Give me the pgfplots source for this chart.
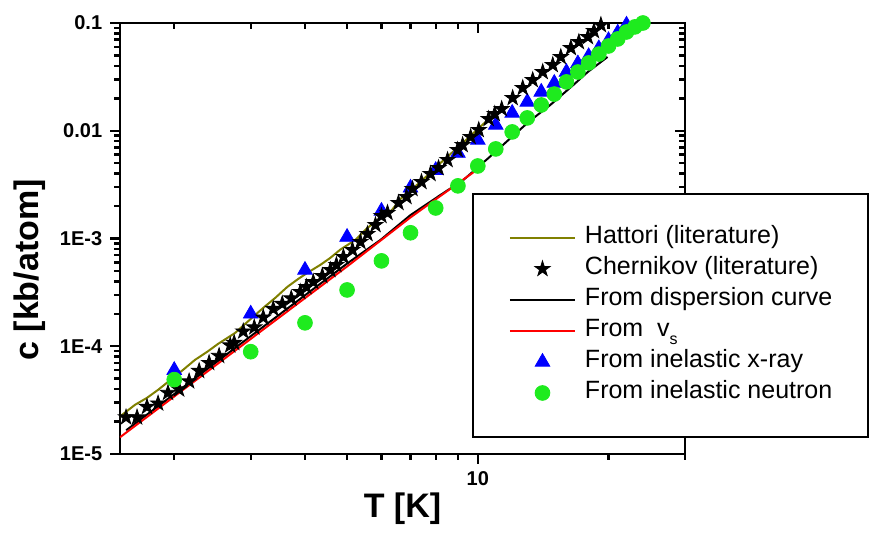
\documentclass[border=0pt]{standalone}
\usepackage{pgfplots}
\pgfplotsset{compat=1.18}
\usepackage{fontspec}
\setmainfont{Liberation Sans}

\definecolor{hattori}{RGB}{128,128,0}
\definecolor{xray}{RGB}{0,0,255}
\definecolor{neutron}{RGB}{30,235,30}

% filled five-pointed star
\pgfdeclareplotmark{fstar}{%
  \pgfpathmoveto{\pgfpointpolar{90}{\pgfplotmarksize}}%
  \pgfpathlineto{\pgfpointpolar{126}{0.382\pgfplotmarksize}}%
  \pgfpathlineto{\pgfpointpolar{162}{\pgfplotmarksize}}%
  \pgfpathlineto{\pgfpointpolar{198}{0.382\pgfplotmarksize}}%
  \pgfpathlineto{\pgfpointpolar{234}{\pgfplotmarksize}}%
  \pgfpathlineto{\pgfpointpolar{270}{0.382\pgfplotmarksize}}%
  \pgfpathlineto{\pgfpointpolar{306}{\pgfplotmarksize}}%
  \pgfpathlineto{\pgfpointpolar{342}{0.382\pgfplotmarksize}}%
  \pgfpathlineto{\pgfpointpolar{18}{\pgfplotmarksize}}%
  \pgfpathlineto{\pgfpointpolar{54}{0.382\pgfplotmarksize}}%
  \pgfpathclose
  \pgfusepathqfillstroke}

\pgfplotsset{
  cleg/.style={legend image code/.code={\draw[mark repeat=2,mark phase=2,##1] plot coordinates {(0pt,0pt) (16.25pt,0pt) (32.5pt,0pt)};}},
  frameaxis/.style={
    width=282.5pt, height=215.5pt, scale only axis,
    xmin=1.5, xmax=30, ymin=1e-5, ymax=0.1,
    xtick={10}, minor xtick={2,3,4,5,6,7,8,9,20,30},
    ytick={1e-5,1e-4,1e-3,1e-2,1e-1},
    minor ytick={2e-5,3e-5,4e-5,5e-5,6e-5,7e-5,8e-5,9e-5,
                 2e-4,3e-4,4e-4,5e-4,6e-4,7e-4,8e-4,9e-4,
                 2e-3,3e-3,4e-3,5e-3,6e-3,7e-3,8e-3,9e-3,
                 2e-2,3e-2,4e-2,5e-2,6e-2,7e-2,8e-2,9e-2},
    every axis/.append style={line width=1.2pt},
    every tick/.append style={black, line width=1.2pt},
    major tick length=5pt, minor tick length=3pt,
  }
}

\begin{document}
\begin{tikzpicture}
\useasboundingbox (-60pt,-45pt) rectangle (374.5pt,227pt);

% frame ticks on top and right, pointing inward
\begin{loglogaxis}[frameaxis,
    xtick pos=right, ytick pos=right, tick align=inside,
    xticklabels={}, yticklabels={}]
\end{loglogaxis}

\begin{loglogaxis}[frameaxis,
    xtick pos=left, ytick pos=left, tick align=outside,
    xticklabels={10},
    yticklabels={1E-5,1E-4,1E-3,0.01,0.1},
    /pgf/number format/assume math mode=true,
    tick label style={font=\bfseries\fontsize{10}{12}\selectfont},
    label style={font=\bfseries\fontsize{17}{20}\selectfont},
    xlabel={T [K]}, ylabel={c [kb/atom]},
    xlabel shift=-4pt,
    ylabel style={at={(ticklabel cs:0.427)}},
    legend cell align=left,
    legend style={at={(0.623,0.6056)}, anchor=north west,
      draw=black, line width=1pt,
      font=\fontsize{12.5}{15}\selectfont,
      inner xsep=18pt, inner ysep=16pt, row sep=3.5pt,
      nodes={inner sep=0pt, text height=9pt, text depth=3pt},
      /tikz/every odd column/.style={column sep=4.5pt}},
]

\addlegendimage{cleg, hattori, line width=1pt}
\addlegendentry{Hattori (literature)}
\addlegendimage{cleg, only marks, mark=fstar, mark size=4pt, black, line width=0.4pt}
\addlegendentry{Chernikov (literature)}
\addlegendimage{cleg, black, line width=1pt}
\addlegendentry{From dispersion curve}
\addlegendimage{cleg, red, line width=1pt}
\addlegendentry{From \ v\raisebox{-4pt}{\fontsize{8}{9}\selectfont s}}
\addlegendimage{cleg, only marks, mark=triangle*, mark size=4.2pt, xray, line width=0.4pt}
\addlegendentry{From inelastic x-ray}
\addlegendimage{cleg, only marks, mark=*, mark size=3.7pt, neutron, line width=0.4pt}
\addlegendentry{From inelastic neutron}

% Hattori (literature)
\addplot[forget plot, hattori, line width=1pt] coordinates {
(1.5,2.23e-5) (1.624,2.86e-5) (1.731,3.32e-5) (1.836,3.94e-5) (1.988,5.09e-5)
(2.096,6.04e-5) (2.233,7.48e-5) (2.381,8.87e-5) (2.524,1.053e-4) (2.763,1.331e-4)
(2.913,1.613e-4) (3.206,2.271e-4) (3.417,2.812e-4) (3.643,3.556e-4) (3.861,4.22e-4)
(4.050,4.80e-4) (4.339,5.69e-4) (4.576,6.61e-4) (4.826,7.9e-4) (5.226,9.70e-4)
(5.571,1.253e-3) (5.873,1.488e-3) (6.294,1.766e-3) (6.638,2.33e-3) (7.38,3.35e-3)
(8.21,5.03e-3) (9.13,7.39e-3) (10.42,0.01206)
};

% From dispersion curve
\addplot[forget plot, black, line width=1pt] coordinates {
(1.55,1.66e-5) (2,3.6e-5) (3,1.24e-4) (4,2.97e-4) (5,5.85e-4) (5.97,9.7e-4)
(7.0,1.65e-3) (8.21,2.54e-3) (9.27,3.5e-3) (10.15,4.82e-3) (11.11,6.64e-3)
(11.6,7.8e-3) (13.1,0.0121) (14.7,0.0174) (16.6,0.0266) (17.9,0.035) (19.9,0.0484)
};

% From v_s
\addplot[forget plot, red, line width=1pt] coordinates {
(1.5,1.43e-5) (3,1.17e-4) (5,5.5e-4) (7,1.57e-3) (10,4.4e-3)
};

% From inelastic x-ray
\addplot[forget plot, only marks, mark=triangle*, mark size=4.2pt, xray, line width=0.4pt] coordinates {
(2,6.0e-5) (3,2.0e-4) (4,5.1e-4) (5,1.03e-3) (6,1.8e-3) (7,2.95e-3) (8,4.3e-3)
(9,6.2e-3) (10,8.2e-3) (11,1.13e-2) (12,1.46e-2) (13,1.85e-2) (14,2.29e-2)
(15,2.77e-2) (16,3.5e-2) (17,4.2e-2) (18,4.9e-2) (19,5.8e-2) (20,6.9e-2)
(21,8.1e-2) (22,9.6e-2)
};

% Chernikov (literature)
\addplot[forget plot, only marks, mark=fstar, mark size=4pt, black, line width=0.4pt] coordinates {
(1.549,2.19e-5) (1.642,2.19e-5) (1.731,2.74e-5) (1.836,2.95e-5) (1.935,3.70e-5)
(2.052,3.98e-5) (2.164,4.73e-5) (2.282,5.91e-5) (2.406,7.01e-5) (2.537,8.15e-5)
(2.691,1.019e-4) (2.748,1.075e-4) (2.883,1.374e-4) (3.057,1.497e-4) (3.206,1.853e-4)
(3.381,2.223e-4) (3.546,2.474e-4) (3.720,2.782e-4) (3.902,3.196e-4) (4.029,3.556e-4)
(4.180,3.958e-4) (4.385,4.498e-4) (4.576,5.113e-4) (4.725,5.689e-4) (4.904,6.75e-4)
(5.144,7.836e-4) (5.367,9.30e-4) (5.571,1.103e-3) (5.812,1.337e-3) (6.000,1.621e-3)
(6.195,1.729e-3) (6.567,2.139e-3) (6.852,2.431e-3) (7.074,2.884e-3) (7.419,3.35e-3)
(7.783,3.975e-3) (8.121,4.517e-3) (8.518,5.358e-3) (8.985,6.637e-3) (9.226,7.386e-3)
(9.628,8.76e-3) (10.05,0.01017) (10.59,0.01287) (10.94,0.01432) (11.35,0.01594)
(12.03,0.02015) (12.69,0.02495) (13.38,0.02959) (14.11,0.03511) (14.88,0.04077)
(15.53,0.04837) (16.38,0.05862) (17.09,0.06664) (17.93,0.07416) (18.51,0.08430)
(19.21,0.0958)
};

% From inelastic neutron
\addplot[forget plot, only marks, mark=*, mark size=3.7pt, neutron, line width=0.4pt] coordinates {
(2,4.9e-5) (3,8.9e-5) (4,1.65e-4) (5,3.33e-4) (6,6.2e-4) (7,1.13e-3) (8,1.92e-3)
(9,3.08e-3) (10,4.71e-3) (11,6.78e-3) (12,9.75e-3) (13,1.315e-2) (14,1.735e-2)
(15,2.19e-2) (16,2.84e-2) (17,3.51e-2) (18,4.26e-2) (19,5.15e-2) (20,6.12e-2)
(21,7.11e-2) (22,8.25e-2) (23,9.2e-2) (24,0.1)
};

\end{loglogaxis}
\end{tikzpicture}
\end{document}
